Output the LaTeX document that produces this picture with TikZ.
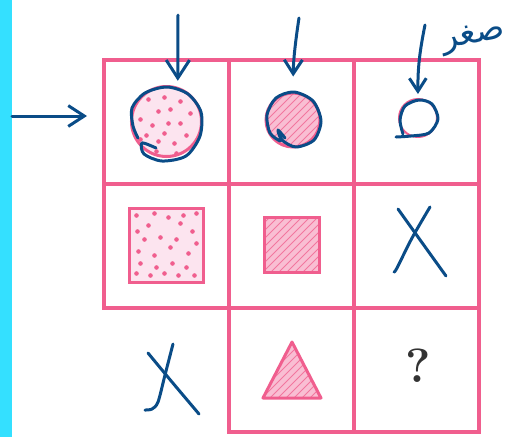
\documentclass[tikz,border=0pt]{standalone}
\usepackage{fontspec}
\usepackage{xcolor}
\usepackage{tikz}
\usetikzlibrary{arrows.meta,positioning,calc}
\newfontfamily\arabicfont[Script=Arabic]{DejaVu Sans}
\TeXXeTstate=1
\definecolor{gridpink}{RGB}{240,94,142}
\definecolor{lightpink}{RGB}{252,228,239}
\definecolor{hatchpink}{RGB}{249,190,211}
\definecolor{penblue}{RGB}{10,76,135}
\definecolor{barcyan}{RGB}{52,224,255}

\begin{document}
\begin{tikzpicture}[x=1pt, y=-1pt,
    cell/.style={draw=gridpink, line width=4pt, minimum width=125pt, minimum height=124pt, inner sep=0pt, outer sep=0pt},
    spotfill/.style={fill=lightpink, path picture={
        \foreach \dx/\dy in {#1}
          \fill[gridpink] ($(path picture bounding box.center)+(\dx,\dy)$) circle (2.3pt);}},
    hatchfill/.style={fill=hatchpink, path picture={
        \foreach \k in {-90,-82,...,90}
          \draw[gridpink!85, line width=0.9pt] ($(path picture bounding box.center)+(\k-60,60)$) -- ++(120,-120);}},
    pen/.style={draw=penblue, line width=3pt, line cap=round, line join=round},
    barb/.style={-{Straight Barb[length=#1, width=1.3*#1, line width=3pt]}}
]
\useasboundingbox (0,0) rectangle (512,437);
\fill[barcyan] (0,0) rectangle (12,437);

% grid of cells
\node[cell] (c11) at (166.5,121.5) {};
\node[cell, right=0pt of c11] (c12) {};
\node[cell, right=0pt of c12] (c13) {};
\node[cell, below=0pt of c11] (c21) {};
\node[cell, right=0pt of c21] (c22) {};
\node[cell, right=0pt of c22] (c23) {};
\node[cell, below=0pt of c22] (c32) {};
\node[cell, right=0pt of c32] (c33) {};

% figures
\node[circle, draw=gridpink, line width=3pt, minimum size=70pt, spotfill={-18/-22,-2/-24,14/-20,-8/-10,24/-8,-26/-2,-14/4,2/2,14/2,-2/12,20/14,-20/14,-8/20,8/22,-26/18,4/-12,-10/30,10/32}] (o1) at (c11.center) {};
\node[circle, draw=gridpink, line width=3pt, minimum size=54pt, hatchfill] (o2) at ($(c12.center)+(1.5,-1.5)$) {};
\node[circle, draw=gridpink, line width=2pt, minimum size=38pt, fill=white] (o3) at ($(c13.center)+(1.5,-3.5)$) {};
\node[rectangle, draw=gridpink, line width=3pt, minimum size=74pt, spotfill={-30/-30,-12/-32,2/-28,17/-30,30/-32,-18/-20,14/-22,-29/-14,26/-14,-22/-6,-6/-8,10/-6,30/-2,-28/6,-12/10,4/2,22/8,-26/18,-10/22,6/18,20/22,-30/28,-16/30,-2/28,12/30,28/30}] (s1) at (c21.center) {};
\node[rectangle, draw=gridpink, line width=3pt, minimum size=55pt, hatchfill] (s2) at ($(c22.center)+(0.5,-0.5)$) {};
\draw[draw=gridpink, line width=3pt, line join=round, hatchfill] ($(c32.center)+(0.5,-27.5)$) -- ($(c32.center)+(29.5,28.5)$) -- ($(c32.center)+(-28.5,28.5)$) -- cycle;
\node[text=black!80, font=\fontsize{48}{48}\selectfont\bfseries] (q) at ($(c33.center)+(1.5,-4)$) {?};

% pen marks
\coordinate (tl) at (12,116);
\coordinate (t1) at (178,15);
\coordinate (t2) at (299,18);
\coordinate (t3) at (425,25);
\draw[pen, barb=16pt] (tl) -- ([xshift=-17pt, yshift=5.5pt]c11.west);
\draw[pen, barb=18pt, shorten >=6pt] (t1) -- (o1.72);
\draw[pen, barb=14pt, shorten >=15pt] (t2) to[bend right=4] (o2.north);
\draw[pen, barb=13pt, shorten >=4pt] (t3) to[bend right=6] (o3.north);
\draw[pen] plot[smooth] coordinates {(156,148) (142,143) (144,154) (162,161) (186,156) (200,136) (201,112) (188,94) (167,87) (145,93) (132,108) (133,126) (138,138)};
\draw[pen] plot[smooth] coordinates {(285,138) (278,130) (282,140) (296,147) (314,140) (321,121) (313,101) (294,92) (276,98) (267,115) (270,133) (280,141)};
\draw[pen] plot[smooth] coordinates {(396,137) (411,136) (429,133) (438,119) (432,104) (419,100) (405,106) (400,120) (403,134)};
\draw[pen] plot[smooth] coordinates {(398,209) (418,237) (446,276)};
\draw[pen] plot[smooth] coordinates {(430,207) (412,238) (397,268) (394,272)};
\draw[pen] plot[smooth] coordinates {(148,353) (172,382) (199,414)};
\draw[pen] plot[smooth] coordinates {(173,344) (165,375) (158,402) (152,409) (145,410)};
\node[text=penblue, font=\arabicfont\fontsize{34}{34}\selectfont, rotate=10] (note) at (474,38) {\beginR صغر\endR};
\end{tikzpicture}
\end{document}
